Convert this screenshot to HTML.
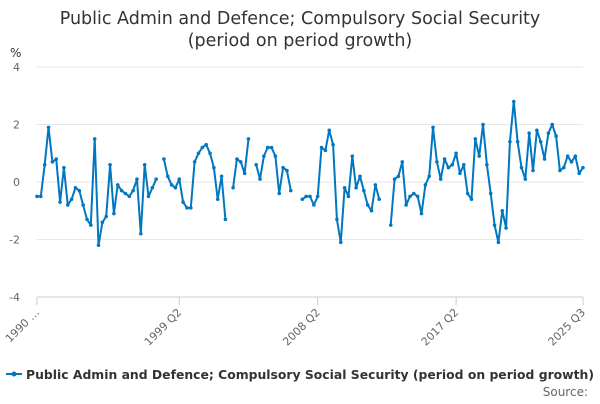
<!DOCTYPE html>
<html><head><meta charset="utf-8"><style>
body{margin:0;background:#fff;font-family:"DejaVu Sans",sans-serif;}
svg text{font-family:"DejaVu Sans",sans-serif;}
</style></head><body>
<svg width="600" height="400" xmlns="http://www.w3.org/2000/svg">
<text x="300" y="24" text-anchor="middle" font-size="17.5" fill="#333">Public Admin and Defence; Compulsory Social Security<tspan x="300" dy="22">(period on period growth)</tspan></text>
<text x="10" y="57" font-size="12" fill="#333">%</text>
<g id="grid"></g><g id="xaxis"></g><g id="series"></g>
<g>
<line x1="6" y1="374" x2="22" y2="374" stroke="#0077c0" stroke-width="2"/>
<circle cx="14" cy="374" r="2.5" fill="#0077c0"/>
<text x="26" y="379" font-size="12.5" font-weight="bold" fill="#333" textLength="568" lengthAdjust="spacingAndGlyphs">Public Admin and Defence; Compulsory Social Security (period on period growth)</text>
</g>
<text x="588" y="396" text-anchor="end" font-size="12" fill="#666">Source:</text>
</svg>
<script>
const yTicks=[4,2,0,-2,-4];
const xLabels=["1990 …","1999 Q2","2008 Q2","2017 Q2","2025 Q3"];
const xLabelIdx=[0,37,73,109,142];
const values=[-0.5,-0.5,0.6,1.9,0.7,0.8,-0.7,0.5,-0.8,-0.6,-0.2,-0.3,-0.8,-1.3,-1.5,1.5,-2.2,-1.4,-1.2,0.6,-1.1,-0.1,-0.3,-0.4,-0.5,-0.3,0.1,-1.8,0.6,-0.5,-0.2,0.1,null,0.8,0.2,-0.1,-0.2,0.1,-0.7,-0.9,-0.9,0.7,1.0,1.2,1.3,1.0,0.5,-0.6,0.2,-1.3,null,-0.2,0.8,0.7,0.3,1.5,null,0.6,0.1,0.9,1.2,1.2,0.9,-0.4,0.5,0.4,-0.3,null,null,-0.6,-0.5,-0.5,-0.8,-0.5,1.2,1.1,1.8,1.3,-1.3,-2.1,-0.2,-0.5,0.9,-0.2,0.2,-0.3,-0.8,-1.0,-0.1,-0.6,null,null,-1.5,0.1,0.2,0.7,-0.8,-0.5,-0.4,-0.5,-1.1,-0.1,0.2,1.9,0.7,0.1,0.8,0.5,0.6,1.0,0.3,0.6,-0.4,-0.6,1.5,0.9,2.0,0.6,-0.4,-1.5,-2.1,-1.0,-1.6,1.4,2.8,1.4,0.5,0.1,1.7,0.4,1.8,1.4,0.8,1.7,2.0,1.6,0.4,0.5,0.9,0.7,0.9,0.3,0.5];
const NS="http://www.w3.org/2000/svg";
const x0=37,x1=583,yTop=67,yBot=297;
const n=values.length;
const xs=i=>x0+i*(x1-x0)/(n-1);
const ys=v=>yTop+(4-v)*(yBot-yTop)/8;
function mk(t,a,p){const e=document.createElementNS(NS,t);for(const k in a)e.setAttribute(k,a[k]);p.appendChild(e);return e;}
const grid=document.getElementById('grid');
yTicks.forEach(v=>{
 const l=mk('line',{x1:x0,x2:x1,y1:ys(v),y2:ys(v),stroke:v===-4?'#ccc':'#e6e6e6','stroke-width':1},grid);
 
 
 const t=mk('text',{x:20,y:ys(v)+4,'text-anchor':'end','font-size':11,fill:'#666'},grid);
 t.textContent=v;
 
 
});
const xa=document.getElementById('xaxis');
xLabelIdx.forEach((idx,k)=>{
 const x=xs(idx);
 const tk=mk('line',{x1:x,x2:x,y1:yBot,y2:yBot+8,stroke:'#ccc'},xa);
 
 
 const t=mk('text',{x:x+3,y:yBot+16,'text-anchor':'end','font-size':11,fill:'#666',transform:`rotate(-45 ${x+3} ${yBot+16})`},xa);
 t.textContent=xLabels[k];
 
 
});
const sg=document.getElementById('series');
let d='',pen=false;
values.forEach((v,i)=>{if(v===null){pen=false;return;}d+=(pen?'L':'M')+xs(i).toFixed(1)+' '+ys(v).toFixed(1);pen=true;});
const p=mk('path',{d:d,fill:'none',stroke:'#0077c0','stroke-width':2,'stroke-linejoin':'round'},sg);


values.forEach((v,i)=>{if(v===null)return;
 const c=mk('circle',{cx:xs(i),cy:ys(v),r:1.8,fill:'#0077c0'},sg);
 
 
});
</script>
</body></html>
